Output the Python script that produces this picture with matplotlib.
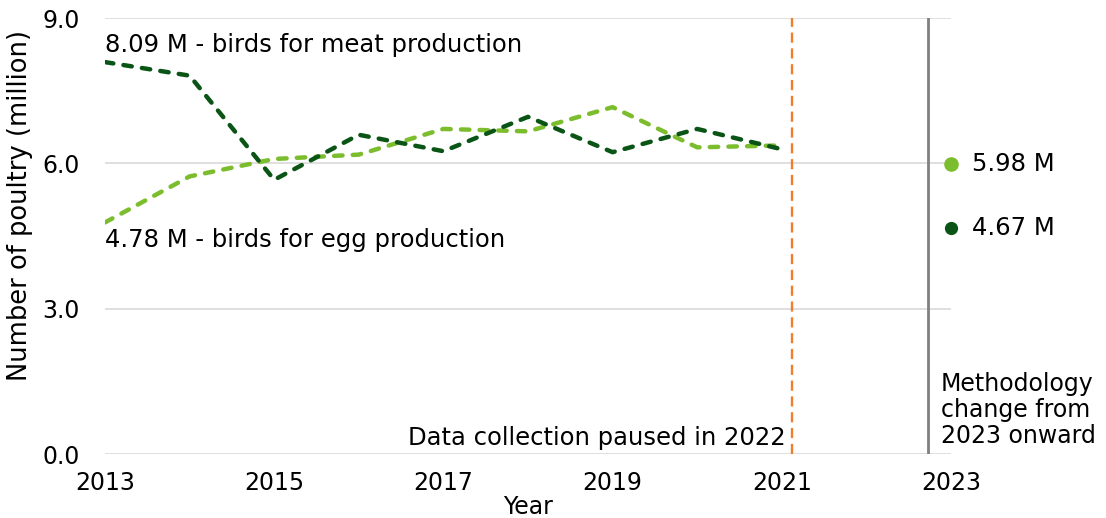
import matplotlib
matplotlib.use("Agg")
import matplotlib.pyplot as plt

years = [2013, 2014, 2015, 2016, 2017, 2018, 2019, 2020, 2021]
egg = [4.78, 5.73, 6.09, 6.18, 6.71, 6.66, 7.16, 6.33, 6.37]
meat = [8.09, 7.81, 5.66, 6.59, 6.25, 6.96, 6.23, 6.71, 6.29]
year_2023 = 2023
egg_2023 = 5.98
meat_2023 = 4.67
xticks = [2013, 2015, 2017, 2019, 2021, 2023]
yticks = [0.0, 3.0, 6.0, 9.0]

LIGHT = "#7cbd2e"
DARK = "#0a5516"
ORANGE = "#f07f2d"
GRAY = "#808080"

plt.rcParams['font.family'] = ['DejaVu Sans']

fig = plt.figure(figsize=(11.06, 5.18), dpi=100)
ax = fig.add_axes([105/1106, 1-454/518, (951-105)/1106, (454-18)/518])

ax.set_xlim(2013, 2023)
ax.set_ylim(0, 9)
for y in yticks:
    ax.axhline(y, color="#d9d9d9", lw=1.2, zorder=0)

l1, = ax.plot(years, egg, color=LIGHT, lw=3.2, dash_capstyle='round', zorder=3)
l1.set_dashes((1.9, 2.3))
l2, = ax.plot(years, meat, color=DARK, lw=3.2, dash_capstyle='round', zorder=4)
l2.set_dashes((1.9, 2.3))

ax.axvline(2021.12, color=ORANGE, lw=1.7, dashes=(4.3, 2.4), zorder=2)
ax.axvline(2022.73, color=GRAY, lw=2, zorder=2)

ax.plot([year_2023], [egg_2023], 'o', color=LIGHT, ms=9.5, clip_on=False, zorder=5)
ax.plot([year_2023], [meat_2023], 'o', color=DARK, ms=8.5, clip_on=False, zorder=5)

fs = 17.5
ax.text(year_2023 + 0.25, egg_2023, f"{egg_2023:.2f} M", fontsize=fs, va='center', ha='left')
ax.text(year_2023 + 0.25, meat_2023, f"{meat_2023:.2f} M", fontsize=fs, va='center', ha='left')
ax.text(2013, 8.44, f"{meat[0]:.2f} M - birds for meat production", fontsize=fs, va='center', ha='left')
ax.text(2013, 4.42, f"{egg[0]:.2f} M - birds for egg production", fontsize=fs, va='center', ha='left')
ax.text(2021.05, 0.34, "Data collection paused in 2022", fontsize=fs, va='center', ha='right')
ax.text(2022.88, 0.91, "Methodology\nchange from\n2023 onward", fontsize=17, va='center', ha='left',
        linespacing=1.1)

ax.set_xticks(xticks)
ax.set_xticklabels([str(x) for x in xticks], fontsize=17)
ax.set_yticks(yticks)
ax.set_yticklabels([f"{y:.1f}" for y in yticks], fontsize=17)
ax.tick_params(axis='y', length=0, pad=18)
ax.tick_params(axis='x', length=0, pad=12)
for s in ax.spines.values():
    s.set_visible(False)

ax.set_xlabel("Year", fontsize=17, labelpad=0)
ax.set_ylabel("Number of poultry (million)", fontsize=18.5)
ax.yaxis.set_label_coords(-0.085, 0.571)

fig.savefig("out.png", dpi=100)
